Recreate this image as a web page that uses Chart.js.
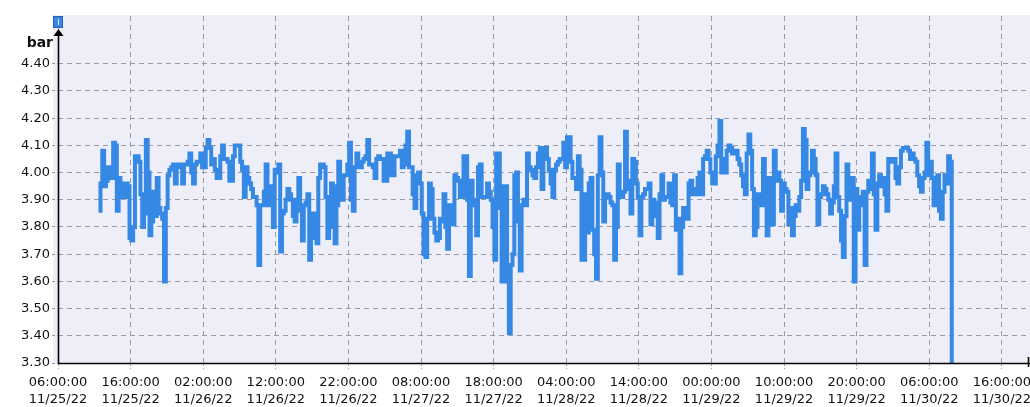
<!DOCTYPE html>
<html><head><meta charset="utf-8">
<script src="https://cdn.jsdelivr.net/npm/chart.js@4/dist/chart.umd.min.js"></script>
<style>html,body{margin:0;padding:0;background:#fff;}#wrap{width:1030px;height:407px;}</style>
</head><body><div id="wrap"><canvas id="c" width="1030" height="407"></canvas></div>
<script>
// time axis in hours since 11/25/22 06:00:00
const startHour = 5.6;
const sampleStepHours = 0.25;
const pressureBar = [
3.86,3.96,4.08,3.95,3.97,4.02,4.00,3.98,4.11,4.10,3.86,3.98,3.96,3.91,3.91,3.96,3.95,3.76,3.75,3.80,
4.06,4.06,4.04,3.92,3.80,3.85,4.12,4.00,3.77,3.82,3.93,3.84,3.98,3.87,3.85,3.83,3.60,3.87,3.99,4.01,
4.02,4.03,3.96,4.03,4.03,4.02,3.96,4.03,4.03,4.04,4.07,4.00,3.96,4.03,4.04,4.04,4.07,4.02,4.02,4.09,
4.12,4.09,4.03,4.05,4.01,3.98,3.98,4.06,4.10,4.05,4.05,4.04,3.97,3.97,4.06,4.10,4.10,4.10,4.04,4.01,
3.91,4.02,3.98,3.96,3.94,3.91,3.91,3.88,3.66,3.88,3.88,3.93,4.03,3.88,3.95,3.92,3.80,4.01,4.00,4.03,
3.71,3.85,3.86,3.90,3.94,3.92,3.90,3.84,3.82,3.90,3.98,3.86,3.75,3.88,3.89,3.92,3.68,3.80,3.85,3.76,
3.74,3.98,4.03,4.03,4.02,3.91,3.76,3.80,3.96,3.95,3.74,3.88,4.04,3.99,3.90,3.99,3.99,4.03,4.11,3.90,
3.86,4.02,4.07,4.02,4.02,4.04,4.05,4.06,4.12,4.03,4.03,4.02,3.98,4.05,4.06,4.05,4.05,3.97,3.97,4.07,
4.07,3.99,3.99,4.06,4.06,4.06,4.08,4.02,4.03,4.10,4.15,4.02,4.02,3.92,3.87,3.99,4.00,3.96,3.85,3.70,
3.69,3.83,3.96,3.94,3.83,3.78,3.75,3.76,3.83,3.82,3.92,3.80,3.72,3.88,3.86,3.81,3.99,3.98,3.97,3.91,
3.91,4.06,4.06,3.90,3.62,3.97,3.88,3.90,3.77,4.02,4.03,3.91,3.91,3.91,3.96,3.93,3.90,3.80,3.68,4.07,
4.07,3.87,3.60,3.95,3.95,3.60,3.41,3.66,3.70,3.99,4.00,3.82,3.64,3.88,3.90,3.88,4.07,4.02,4.01,3.99,
3.98,4.02,4.07,4.09,3.94,4.09,4.09,4.05,4.01,3.96,3.91,4.01,4.03,4.04,4.05,4.05,4.11,4.02,4.13,4.13,
4.04,3.98,3.98,3.94,4.06,4.01,3.68,3.68,3.92,3.78,3.96,3.98,3.79,3.70,3.61,3.99,4.13,4.00,3.82,3.92,
3.92,3.91,3.89,3.88,3.68,3.80,4.03,3.93,3.91,3.93,4.15,3.97,3.94,3.85,4.05,4.04,3.96,3.91,3.77,3.91,
3.92,3.94,3.94,3.96,3.81,3.90,3.89,3.84,3.76,3.92,3.99,3.90,3.91,3.91,3.96,3.89,3.88,3.99,3.79,3.83,
3.63,3.80,3.87,3.84,3.83,3.96,3.97,3.92,3.94,3.92,3.98,4.00,3.92,4.05,4.06,4.08,4.05,4.00,3.96,3.96,
4.06,4.10,4.19,4.00,4.05,4.00,4.08,4.10,4.09,4.07,4.07,4.08,4.05,4.03,3.99,3.95,3.92,4.07,4.14,4.08,
3.94,3.77,3.80,3.92,3.91,3.88,4.05,3.90,3.77,3.98,3.96,3.81,4.08,3.97,4.00,3.97,3.86,3.96,3.94,3.93,
3.81,3.87,3.77,3.84,3.88,3.86,3.91,3.97,4.16,4.12,3.94,3.99,4.00,4.08,4.05,3.99,3.81,3.91,3.92,3.95,
3.94,3.92,3.90,3.85,3.89,3.95,4.07,3.91,3.86,3.75,3.69,3.84,4.03,3.94,3.90,3.98,3.60,3.94,3.79,3.91,
3.88,3.93,3.66,3.93,3.97,3.94,4.07,3.92,3.79,3.96,3.99,3.95,3.98,3.92,3.86,4.05,4.04,4.04,4.05,3.98,
3.96,4.02,4.08,4.09,4.09,4.09,4.08,4.05,4.07,4.05,4.04,3.99,3.95,3.93,3.98,4.00,4.11,3.99,4.04,3.98,
3.88,3.92,3.99,3.86,3.83,3.93,3.99,3.96,4.06,4.04,3.30
];
const xTickHours = [0,10,20,30,40,50,60,70,80,90,100,110,120,130];
const xTickTimes = ['06:00:00','16:00:00','02:00:00','12:00:00','22:00:00','08:00:00','18:00:00','04:00:00','14:00:00','00:00:00','10:00:00','20:00:00','06:00:00','16:00:00'];
const xTickDates = ['11/25/22','11/25/22','11/26/22','11/26/22','11/26/22','11/27/22','11/27/22','11/28/22','11/28/22','11/29/22','11/29/22','11/29/22','11/30/22','11/30/22'];
const yTickValues = [3.30,3.40,3.50,3.60,3.70,3.80,3.90,4.00,4.10,4.20,4.30,4.40];
const unitLabel = 'bar';

const points = pressureBar.map((v, i) => ({x: startHour + i * sampleStepHours, y: v}));
const FONT = '"DejaVu Sans", Verdana, sans-serif';

const decor = {
  id: 'decor',
  beforeDraw(chart) {
    const {ctx, chartArea: a} = chart;
    ctx.save();
    ctx.fillStyle = '#ffffff';
    ctx.fillRect(0, 0, chart.width, chart.height);
    ctx.fillStyle = '#eeeef8';
    ctx.fillRect(a.left - 5, a.top - 1, chart.width - (a.left - 5), a.bottom - a.top + 1);
    ctx.restore();
  },
  afterDraw(chart) {
    const {ctx, chartArea: a} = chart;
    ctx.save();
    ctx.strokeStyle = '#000';
    ctx.lineWidth = 1.6;
    ctx.beginPath();
    ctx.moveTo(a.left, a.bottom + 0.5);
    ctx.lineTo(chart.width, a.bottom + 0.5);
    ctx.stroke();
    ctx.beginPath();
    ctx.moveTo(a.right + 0.5, a.bottom - 6);
    ctx.lineTo(a.right + 0.5, a.bottom + 4);
    ctx.stroke();
    ctx.beginPath();
    ctx.moveTo(a.left + 0.5, a.bottom + 1);
    ctx.lineTo(a.left + 0.5, a.top + 17);
    ctx.stroke();
    ctx.fillStyle = '#000';
    ctx.beginPath();
    ctx.moveTo(a.left + 0.5, a.top + 13);
    ctx.lineTo(a.left - 4.5, a.top + 20);
    ctx.lineTo(a.left + 5.5, a.top + 20);
    ctx.closePath();
    ctx.fill();
    ctx.fillStyle = '#3a86e6';
    ctx.fillRect(a.left - 5, a.top, 10, 12);
    ctx.strokeStyle = '#2363b8';
    ctx.lineWidth = 1;
    ctx.strokeRect(a.left - 4.5, a.top + 0.5, 9, 11);
    ctx.strokeStyle = '#dfe9ff';
    ctx.beginPath();
    ctx.moveTo(a.left + 0.5, a.top + 3);
    ctx.lineTo(a.left + 0.5, a.top + 9);
    ctx.stroke();
    ctx.fillStyle = '#111';
    ctx.font = 'bold 14px ' + FONT;
    ctx.textAlign = 'right';
    ctx.textBaseline = 'alphabetic';
    ctx.fillText(unitLabel, a.left - 5, a.top + 31);
    ctx.restore();
  }
};

new Chart(document.getElementById('c'), {
  type: 'line',
  data: {
    datasets: [{
      data: points,
      borderColor: '#3589e4',
      borderWidth: 4,
      pointRadius: 0,
      stepped: true,
      fill: false,
      borderJoinStyle: 'miter'
    }]
  },
  options: {
    responsive: false,
    devicePixelRatio: 1,
    animation: false,
    layout: {padding: {top: 16, right: 2, left: 0, bottom: 0}},
    plugins: {legend: {display: false}, tooltip: {enabled: false}},
    scales: {
      x: {
        type: 'linear',
        min: 0,
        max: 133.6,
        afterBuildTicks: s => { s.ticks = xTickHours.map(v => ({value: v})); },
        afterFit: s => { s.height = 44; s.paddingLeft = 0; s.paddingRight = 0; },
        ticks: {
          autoSkip: false, maxRotation: 0, minRotation: 0, padding: 5,
          color: '#111',
          font: {family: FONT, size: 13, lineHeight: 1.3},
          callback: (v) => { const i = xTickHours.indexOf(v); return i < 0 ? '' : [xTickTimes[i], xTickDates[i]]; }
        },
        grid: {color: '#9a9aa4', lineWidth: 1, tickLength: 6, tickColor: '#9a9aa4', tickBorderDash: [3, 2]},
        border: {display: false, dash: [5, 4]}
      },
      y: {
        type: 'linear',
        min: 3.30,
        max: 4.5757,
        afterBuildTicks: s => { s.ticks = yTickValues.map(v => ({value: v})); },
        afterFit: s => { s.width = 58; s.paddingTop = 0; s.paddingBottom = 0; },
        ticks: {
          padding: 2, color: '#111',
          font: {family: FONT, size: 13},
          callback: v => Number(v).toFixed(2)
        },
        grid: {color: '#9a9aa4', lineWidth: 1, tickLength: 6, tickColor: '#9a9aa4', tickBorderDash: [3, 2]},
        border: {display: false, dash: [5, 4]}
      }
    }
  },
  plugins: [decor]
});
</script>
</body></html>
